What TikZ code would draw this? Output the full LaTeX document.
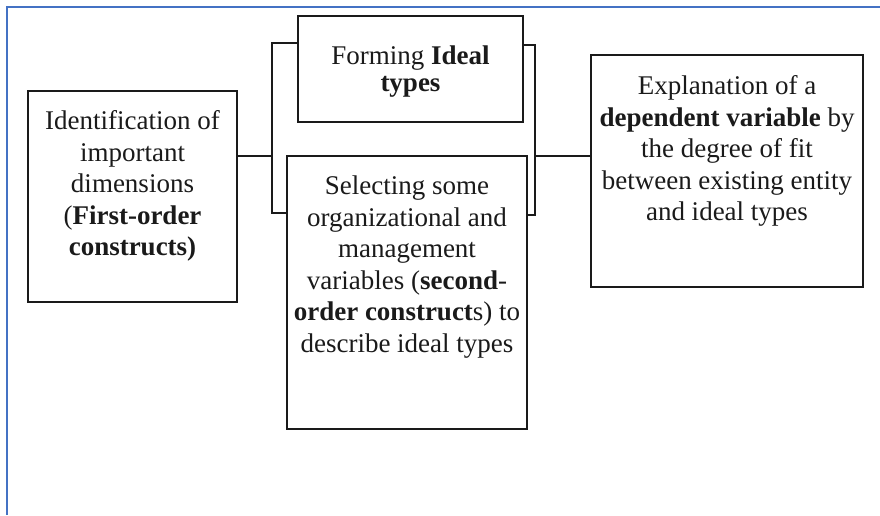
\documentclass[tikz,border=0pt]{standalone}
\usepackage{fontspec}
\setmainfont{Liberation Serif}
\definecolor{frameblue}{HTML}{4472C4}
\definecolor{ink}{HTML}{1A1A1A}
\begin{document}
\begin{tikzpicture}[x=1pt,y=-1pt,
  box/.style={draw=ink,line width=2pt,rectangle,inner sep=0pt},
  txt/.style={align=center,inner sep=0pt,text=ink,font=\fontsize{27}{31.5}\selectfont},
  conn/.style={draw=ink,line width=1.2pt},
  brk/.style={draw=ink,line width=2pt}]
\useasboundingbox (0,0) rectangle (880,515);
\draw[frameblue,line width=2pt] (7,515) -- (7,7) -- (880,7);
% boxes
\node[box,minimum width=209pt,minimum height=211pt] (L) at (132.5,196.5) {};
\node[box,minimum width=225pt,minimum height=106pt] (T) at (410.5,69) {};
\node[box,minimum width=240pt,minimum height=273pt] (M) at (407,292.5) {};
\node[box,minimum width=272pt,minimum height=232pt] (R) at (727,171) {};
% texts
\node[txt] (Lt) at (132.5,186) {Identification of\\important\\dimensions\\(\textbf{First-order}\\\textbf{constructs)}};
\node[txt,font=\fontsize{27}{27}\selectfont] (Tt) at (410.5,72) {Forming \textbf{Ideal}\\\textbf{types}};
\node[txt] (Mt) at (407,267) {Selecting some\\organizational and\\management\\variables (\textbf{second}-\\\textbf{order construct}s) to\\describe ideal types};
\node[txt] (Rt) at (727,151) {Explanation of a\\\textbf{dependent variable} by\\the degree of fit\\between existing entity\\and ideal types};
% brackets
\coordinate (lb) at (272,156);
\coordinate (rb) at (535,156);
\draw[conn] (L.east |- lb) -- (lb);
\draw[brk] (T.west |- 0,43) -- (272,43) -- (272,213) -- (M.west |- 0,213);
\draw[brk] (T.east |- 0,45) -- (535,45) -- (535,215) -- (M.east |- 0,215);
\draw[conn] (rb) -- (R.west |- rb);
\end{tikzpicture}
\end{document}
